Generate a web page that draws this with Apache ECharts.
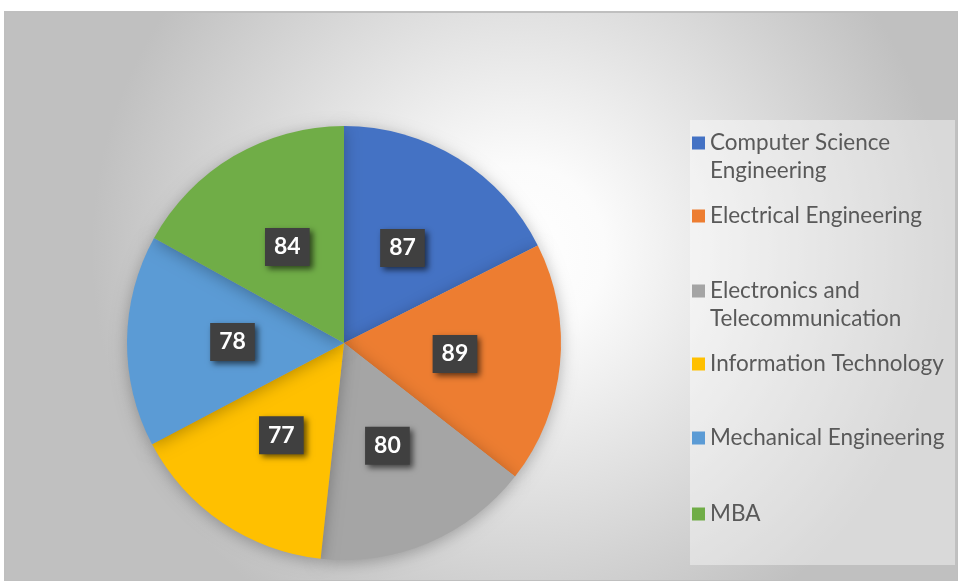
<!DOCTYPE html>
<html><head><meta charset="utf-8">
<script src="https://cdn.jsdelivr.net/npm/echarts@6/dist/echarts.min.js"></script>
<style>html,body{margin:0;padding:0;background:#fff;}#c{width:958px;height:581px;}</style>
</head><body><div id="c"></div>
<script>
const categories = ['Computer Science Engineering','Electrical Engineering','Electronics and Telecommunication','Information Technology','Mechanical Engineering','MBA'];
const legendLines = [['Computer Science','Engineering'],['Electrical Engineering'],['Electronics and','Telecommunication'],['Information Technology'],['Mechanical Engineering'],['MBA']];
const values = [87, 89, 80, 77, 78, 84];
const colors = ['#4472C4','#ED7D31','#A5A5A5','#FFC000','#5B9BD5','#70AD47'];
const legendTops = [143, 216, 291, 364, 438, 514];
const LINE_H = 28;

const chart = echarts.init(document.getElementById('c'));
const FONT = 'Lato, "Open Sans", sans-serif';
const legends = [];
categories.forEach((name, i) => {
  legendLines[i].forEach((line, k) => {
    legends.push({
      data: [name],
      left: 692,
      top: legendTops[i] + k * LINE_H - LINE_H / 2,
      padding: 0,
      icon: 'rect',
      itemWidth: 13, itemHeight: 13, itemGap: 5,
      itemStyle: k === 0 ? {} : { opacity: 0 },
      formatter: () => line,
      textStyle: { fontFamily: FONT, fontSize: 22.5, color: '#595959', lineHeight: LINE_H },
      selectedMode: false
    });
  });
});

chart.setOption({
  animation: false,
  color: colors,
  graphic: [
    { type: 'rect', z: -10, shape: { x: 5, y: 12, width: 953, height: 569 },
      style: {
        fill: { type: 'radial', x: 0.54, y: 0.42, r: 0.75,
          colorStops: [{offset: 0, color: '#ffffff'}, {offset: 0.2, color: '#fbfbfb'}, {offset: 1, color: '#c0c0c0'}] },
        stroke: '#bfbfbf', lineWidth: 2
      } },
    { type: 'rect', z: -9, shape: { x: 690, y: 120, width: 265, height: 445 },
      style: { fill: 'rgba(255,255,255,0.4)' } }
  ],
  legend: legends,
  series: [{
    type: 'pie',
    center: [344, 343],
    radius: 217,
    startAngle: 90,
    clockwise: true,
    data: categories.map((n, i) => ({ name: n, value: values[i] })),
    itemStyle: { shadowBlur: 16, shadowColor: 'rgba(0,0,0,0.28)', shadowOffsetY: 3 },
    label: {
      show: true, position: 'inside', formatter: '{c}',
      fontFamily: FONT, fontWeight: 'bold', fontSize: 23, color: '#fff',
      backgroundColor: '#404040', padding: [8, 9, 7, 9],
      shadowColor: 'rgba(0,0,0,0.6)', shadowBlur: 6, shadowOffsetX: 3, shadowOffsetY: 3
    },
    labelLine: { show: false },
    emphasis: { disabled: true }
  }]
});
</script></body></html>
